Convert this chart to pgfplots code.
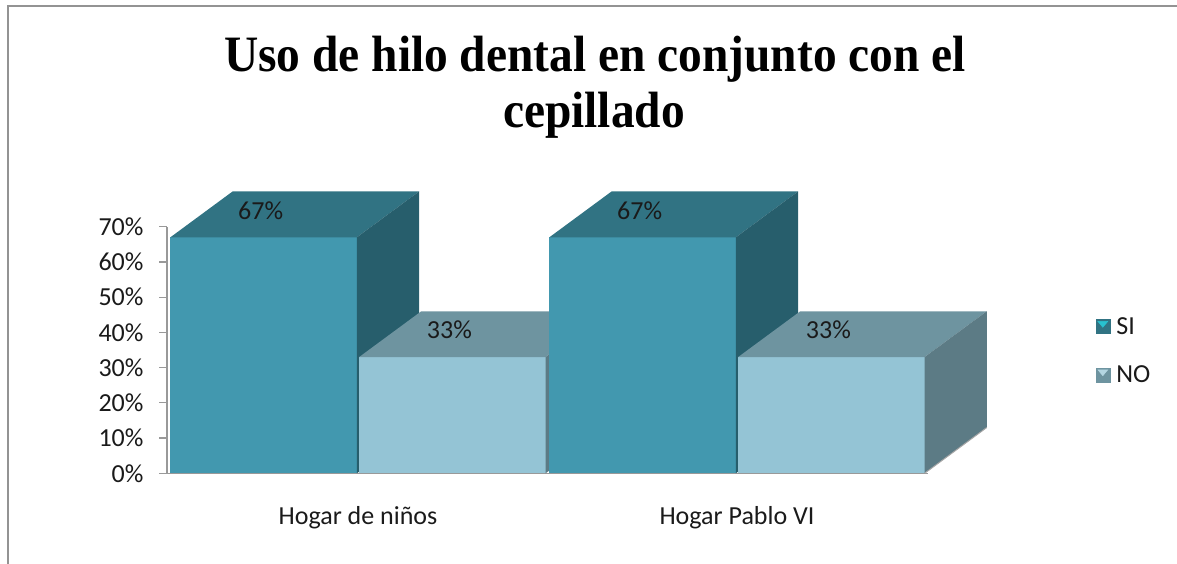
\documentclass[border=0pt]{standalone}
\usepackage{pgfplots}
\pgfplotsset{compat=1.18}
\usepackage{fontspec}
\setmainfont{Carlito}
\newfontfamily\titlefont[FakeStretch=0.93]{Liberation Serif}
\definecolor{siF}{HTML}{4298AF}
\definecolor{siT}{HTML}{317383}
\definecolor{siS}{HTML}{275E6C}
\definecolor{noF}{HTML}{94C4D5}
\definecolor{noT}{HTML}{6E94A0}
\definecolor{noS}{HTML}{5C7B85}
\definecolor{txt}{HTML}{1A1A1A}
\pgfplotsset{/pgf/number format/assume math mode=true}
% one 3D bar: x0, x1, value, front, top, side colours
\newcommand\cube[6]{%
  \pgfmathsetmacro\xb{#2+0.164}%
  \pgfmathsetmacro\xc{#1+0.164}%
  \pgfmathsetmacro\vt{#3+13.0}%
  \edef\doit{%
    \noexpand\addplot[fill=#4,draw=none,forget plot] coordinates {(#1,0) (#2,0) (#2,#3) (#1,#3)};
    \noexpand\addplot[fill=#5,draw=none,forget plot] coordinates {(#1,#3) (#2,#3) (\xb,\vt) (\xc,\vt)};
    \noexpand\addplot[fill=#6,draw=none,forget plot] coordinates {(#2,0) (\xb,13.0) (\xb,\vt) (#2,#3)};
  }\doit}
\begin{document}
\begin{tikzpicture}
\path[use as bounding box] (0pt,0pt) rectangle (1177pt,-563pt);
\begin{scope}
\clip (0pt,0pt) rectangle (1177pt,-563pt);
\draw[color=gray!85, line width=2pt] (8pt,-600pt) -- (8pt,-6pt) -- (1220pt,-6pt);
\end{scope}
\node[anchor=base, font=\titlefont\bfseries\fontsize{51}{60}\selectfont] at (595pt,-71pt) {Uso de hilo dental en conjunto con el};
\node[anchor=base, font=\titlefont\bfseries\fontsize{51}{60}\selectfont] at (594pt,-127pt) {cepillado};
\begin{axis}[
  at={(167pt,-473.3pt)}, anchor=south west,
  scale only axis, width=761pt, height=246.6pt,
  xmin=-0.504, xmax=1.504, ymin=0, ymax=70,
  clip=false,
  axis x line*=bottom, axis y line*=left,
  axis line style={-, draw=gray!80, line width=1.2pt},
  xtick={0,1}, xticklabels={Hogar de niños, Hogar Pablo VI},
  xtick style={draw=none},
  xticklabel style={yshift=-22pt},
  ytick={0,10,...,70},
  yticklabel={\pgfmathprintnumber{\tick}\%},
  yticklabel style={xshift=-12pt},
  ytick style={draw=gray!80, line width=1.2pt},
  tick align=outside, major tick length=8pt,
  ticklabel style={font=\fontsize{26}{30}\selectfont, text=txt},
  legend style={at={(1.220,0.642)}, anchor=north west, draw=none, fill=none,
    font=\fontsize{26}{30}\selectfont, text=txt, row sep=26pt, inner sep=0pt},
  legend cell align=left,
]
\cube{-0.495}{-0.003}{67}{siF}{siT}{siS}
\cube{0.003}{0.495}{33}{noF}{noT}{noS}
\cube{0.505}{0.997}{67}{siF}{siT}{siS}
\cube{1.003}{1.495}{33}{noF}{noT}{noS}
\addplot[draw=gray!70, line width=1pt, forget plot] coordinates {(1.495,0) (1.659,13.0)};
\addplot[draw=none, mark=none, forget plot, point meta=y,
  nodes near coords={\pgfmathprintnumber{\pgfplotspointmeta}\%},
  every node near coord/.append style={anchor=center, yshift=27pt, xshift=-3pt,
    font=\fontsize{26}{30}\selectfont, text=txt}]
  coordinates {(-0.249,67) (0.751,67)};
\addplot[draw=none, mark=none, forget plot, point meta=y,
  nodes near coords={\pgfmathprintnumber{\pgfplotspointmeta}\%},
  every node near coord/.append style={anchor=center, yshift=27pt, xshift=-3pt,
    font=\fontsize{26}{30}\selectfont, text=txt}]
  coordinates {(0.249,33) (1.249,33)};
\addlegendimage{legend image code/.code={\fill[siT] (0pt,-7pt) rectangle (14pt,7pt); \fill[siF!60!cyan] (2pt,5pt) -- (12pt,5pt) -- (7pt,-1pt) -- cycle;}}
\addlegendentry{\,SI}
\addlegendimage{legend image code/.code={\fill[noT] (0pt,-7pt) rectangle (14pt,7pt); \fill[noF!70!white] (2pt,5pt) -- (12pt,5pt) -- (7pt,-1pt) -- cycle;}}
\addlegendentry{\,NO}
\end{axis}
\end{tikzpicture}
\end{document}
